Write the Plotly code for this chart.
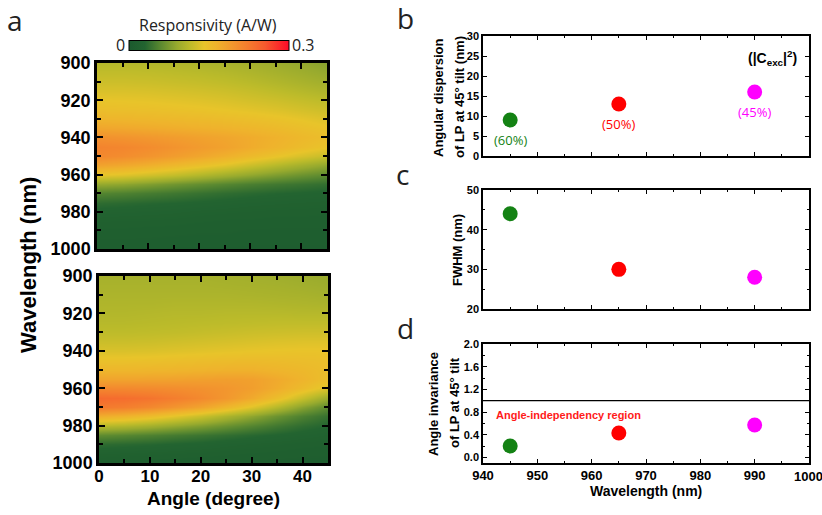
import plotly.graph_objects as go

# ---------------- data ----------------
angles = [0, 5, 10, 15, 20, 25, 30, 35, 40, 45]
wavelengths = [900, 905, 910, 915, 920, 925, 930, 935, 940, 945, 950,
               955, 960, 965, 970, 975, 980, 985, 990, 995, 1000]

# responsivity (A/W), rows = wavelengths, columns = angles (upper map)
resp_top = [
    [0.110, 0.110, 0.109, 0.107, 0.105, 0.102, 0.099, 0.094, 0.089, 0.083],
    [0.117, 0.117, 0.116, 0.114, 0.112, 0.109, 0.105, 0.100, 0.095, 0.089],
    [0.124, 0.124, 0.123, 0.121, 0.119, 0.116, 0.112, 0.107, 0.102, 0.097],
    [0.132, 0.132, 0.131, 0.129, 0.127, 0.124, 0.120, 0.115, 0.110, 0.105],
    [0.141, 0.140, 0.139, 0.137, 0.135, 0.132, 0.128, 0.124, 0.119, 0.114],
    [0.150, 0.149, 0.148, 0.146, 0.144, 0.141, 0.138, 0.134, 0.129, 0.124],
    [0.162, 0.161, 0.159, 0.157, 0.155, 0.152, 0.149, 0.145, 0.140, 0.134],
    [0.178, 0.176, 0.173, 0.170, 0.167, 0.164, 0.160, 0.155, 0.149, 0.143],
    [0.200, 0.197, 0.193, 0.188, 0.183, 0.178, 0.172, 0.165, 0.157, 0.150],
    [0.215, 0.212, 0.206, 0.198, 0.190, 0.182, 0.172, 0.162, 0.152, 0.142],
    [0.210, 0.205, 0.197, 0.188, 0.178, 0.167, 0.155, 0.143, 0.131, 0.120],
    [0.182, 0.176, 0.168, 0.158, 0.148, 0.137, 0.124, 0.111, 0.099, 0.087],
    [0.140, 0.135, 0.127, 0.118, 0.108, 0.097, 0.087, 0.077, 0.068, 0.060],
    [0.090, 0.086, 0.079, 0.071, 0.064, 0.057, 0.051, 0.046, 0.042, 0.038],
    [0.056, 0.053, 0.049, 0.045, 0.041, 0.037, 0.034, 0.031, 0.029, 0.027],
    [0.036, 0.034, 0.032, 0.030, 0.028, 0.026, 0.024, 0.023, 0.022, 0.021],
    [0.026, 0.025, 0.024, 0.023, 0.021, 0.020, 0.019, 0.018, 0.018, 0.017],
    [0.020, 0.019, 0.019, 0.018, 0.017, 0.016, 0.016, 0.015, 0.015, 0.015],
    [0.016, 0.016, 0.015, 0.015, 0.014, 0.014, 0.013, 0.013, 0.013, 0.013],
    [0.013, 0.013, 0.013, 0.012, 0.012, 0.012, 0.011, 0.011, 0.011, 0.011],
    [0.011, 0.011, 0.011, 0.010, 0.010, 0.010, 0.010, 0.010, 0.010, 0.010],
]

# responsivity (A/W), lower map
resp_bottom = [
    [0.100, 0.100, 0.100, 0.100, 0.100, 0.099, 0.098, 0.096, 0.094, 0.092],
    [0.102, 0.102, 0.102, 0.102, 0.102, 0.101, 0.100, 0.099, 0.097, 0.095],
    [0.104, 0.104, 0.104, 0.104, 0.104, 0.104, 0.103, 0.102, 0.101, 0.099],
    [0.106, 0.106, 0.106, 0.107, 0.107, 0.107, 0.107, 0.106, 0.105, 0.104],
    [0.108, 0.108, 0.109, 0.110, 0.110, 0.111, 0.111, 0.111, 0.110, 0.110],
    [0.111, 0.111, 0.112, 0.113, 0.114, 0.115, 0.116, 0.117, 0.117, 0.117],
    [0.115, 0.115, 0.116, 0.117, 0.119, 0.121, 0.123, 0.124, 0.125, 0.125],
    [0.122, 0.122, 0.123, 0.125, 0.127, 0.129, 0.131, 0.133, 0.134, 0.134],
    [0.132, 0.132, 0.133, 0.135, 0.137, 0.139, 0.141, 0.142, 0.143, 0.143],
    [0.145, 0.145, 0.146, 0.148, 0.150, 0.152, 0.153, 0.152, 0.150, 0.148],
    [0.160, 0.160, 0.161, 0.162, 0.164, 0.166, 0.166, 0.162, 0.157, 0.150],
    [0.180, 0.180, 0.181, 0.182, 0.184, 0.186, 0.184, 0.174, 0.162, 0.148],
    [0.210, 0.209, 0.207, 0.204, 0.200, 0.195, 0.186, 0.171, 0.153, 0.133],
    [0.240, 0.237, 0.231, 0.221, 0.209, 0.194, 0.174, 0.150, 0.120, 0.092],
    [0.225, 0.220, 0.210, 0.196, 0.180, 0.160, 0.136, 0.110, 0.082, 0.060],
    [0.170, 0.163, 0.152, 0.138, 0.122, 0.104, 0.086, 0.068, 0.052, 0.040],
    [0.110, 0.105, 0.097, 0.087, 0.077, 0.066, 0.055, 0.045, 0.036, 0.030],
    [0.062, 0.058, 0.053, 0.048, 0.043, 0.038, 0.033, 0.029, 0.025, 0.022],
    [0.036, 0.034, 0.032, 0.029, 0.027, 0.024, 0.022, 0.020, 0.018, 0.017],
    [0.022, 0.021, 0.020, 0.019, 0.018, 0.017, 0.016, 0.015, 0.014, 0.014],
    [0.015, 0.015, 0.014, 0.014, 0.013, 0.013, 0.012, 0.012, 0.012, 0.011],
]

peak_wavelength = [945, 965, 990]
angular_dispersion = [9, 13, 16]
fwhm = [44, 30, 28]
angle_invariance = [0.2, 0.43, 0.57]
exciton_fraction = ["(60%)", "(50%)", "(45%)"]
point_colors = ["#148214", "#ff0000", "#ff00ff"]

colorscale = [
    [0.0, "#1b5a2e"], [0.1, "#236430"], [0.2, "#5c8a30"], [0.3, "#97aa2e"],
    [0.38, "#bcbb2a"], [0.47, "#e8c42a"], [0.55, "#efb22c"], [0.65, "#f2962e"],
    [0.75, "#f47a2e"], [0.85, "#f65a2e"], [1.0, "#ff0a28"],
]

W, H = 822, 515


def px_x(p):
    return p / W


def px_y(p):
    return (H - p) / H


fig = go.Figure()

fig.add_trace(go.Heatmap(
    x=angles, y=wavelengths, z=resp_top, zmin=0, zmax=0.3, zsmooth="best",
    colorscale=colorscale, xaxis="x", yaxis="y", hoverinfo="skip",
    colorbar=dict(orientation="h", x=px_x(208.5), xanchor="center",
                  y=px_y(45.5), yanchor="middle", len=160 / W, lenmode="fraction",
                  thickness=10, thicknessmode="pixels", outlinecolor="black",
                  outlinewidth=1, showticklabels=False, ticks="", xpad=0, ypad=0),
))
fig.add_trace(go.Heatmap(
    x=angles, y=wavelengths, z=resp_bottom, zmin=0, zmax=0.3, zsmooth="best",
    colorscale=colorscale, showscale=False, xaxis="x2", yaxis="y2", hoverinfo="skip",
))

for ax_x, ax_y, vals in [("x3", "y3", angular_dispersion), ("x4", "y4", fwhm),
                         ("x5", "y5", angle_invariance)]:
    fig.add_trace(go.Scatter(
        x=peak_wavelength, y=vals, mode="markers", xaxis=ax_x, yaxis=ax_y,
        marker=dict(size=15, color=point_colors, line=dict(width=0)),
        showlegend=False, hoverinfo="skip",
    ))

bold = "Liberation Sans"
hm_common = dict(showline=True, linewidth=2.5, linecolor="black", mirror="ticks",
                 ticks="inside", ticklen=6, tickwidth=2, tickcolor="black",
                 showgrid=False, zeroline=False, automargin=False,
                 tickfont=dict(family=bold, size=18, color="black", weight="bold"))
hm_x = dict(hm_common, range=[0, 45], tick0=0, dtick=10,
            minor=dict(ticks="inside", ticklen=4, tickwidth=2, tickcolor="black", dtick=5))
hm_y = dict(hm_common, range=[1000, 900], tick0=900, dtick=20,
            minor=dict(ticks="inside", ticklen=4, tickwidth=2, tickcolor="black", dtick=10))

rp_common = dict(showline=True, linewidth=1.5, linecolor="black", mirror="ticks",
                 ticks="inside", ticklen=4, tickwidth=1.2, tickcolor="black",
                 showgrid=False, zeroline=False, automargin=False,
                 tickfont=dict(family=bold, size=11, color="black", weight="bold"))
rp_minor = dict(ticks="inside", ticklen=2.5, tickwidth=1.2, tickcolor="black")
rp_x = dict(rp_common, range=[940, 1000.001], tick0=940, dtick=10,
            minor=dict(rp_minor, dtick=5))

fig.update_layout(
    width=W, height=H, margin=dict(l=0, r=0, t=0, b=0, autoexpand=False),
    paper_bgcolor="white", plot_bgcolor="white", showlegend=False,
    xaxis=dict(hm_x, domain=[px_x(97), px_x(327)], anchor="y", showticklabels=False),
    yaxis=dict(hm_y, domain=[px_y(249), px_y(63)], anchor="x"),
    xaxis2=dict(hm_x, domain=[px_x(99), px_x(328)], anchor="y2", ticklabelstandoff=-4,
                tickfont=dict(family=bold, size=17, color="black", weight="bold")),
    yaxis2=dict(hm_y, domain=[px_y(463), px_y(276)], anchor="x2"),
    xaxis3=dict(rp_x, domain=[px_x(483), px_x(809)], anchor="y3", showticklabels=False),
    yaxis3=dict(rp_common, domain=[px_y(156), px_y(36)], anchor="x3",
                range=[0, 30], dtick=5),
    xaxis4=dict(rp_x, domain=[px_x(483), px_x(809)], anchor="y4", showticklabels=False),
    yaxis4=dict(rp_common, domain=[px_y(309), px_y(190)], anchor="x4",
                range=[20, 50], dtick=10, minor=dict(rp_minor, dtick=5)),
    xaxis5=dict(rp_x, domain=[px_x(483), px_x(809)], anchor="y5",
                tickfont=dict(family=bold, size=13, color="black", weight="bold")),
    yaxis5=dict(rp_common, domain=[px_y(463), px_y(344)], anchor="x5",
                range=[-0.1, 2.0], tick0=0, dtick=0.4, tickformat=".1f",
                minor=dict(rp_minor, dtick=0.2)),
)

fig.add_shape(type="line", xref="x5 domain", x0=0, x1=1, yref="y5", y0=1.0, y1=1.0,
              line=dict(color="black", width=1.2))

ann = []


def paper_text(text, x, y, size, family=bold, weight="bold", angle=0, color="black",
               xanchor="center"):
    ann.append(dict(text=text, x=px_x(x), y=px_y(y), xref="paper", yref="paper",
                    showarrow=False, textangle=angle, xanchor=xanchor, yanchor="middle",
                    font=dict(family=family, size=size, color=color, weight=weight)))


light = "Open Sans"
paper_text("a", 15, 20, 28, family=light, weight="normal", color="#222")
paper_text("b", 405, 18, 28, family=light, weight="normal", color="#222")
paper_text("c", 402, 174, 28, family=light, weight="normal", color="#222")
paper_text("d", 405, 328, 28, family=light, weight="normal", color="#222")

paper_text("Responsivity (A/W)", 208, 25, 16, family=light, weight="normal", color="#222")
paper_text("0", 121, 45, 16, family=light, weight="normal", color="#222")
paper_text("0.3", 303, 45, 16, family=light, weight="normal", color="#222")

paper_text("Wavelength (nm)", 28, 265, 22, angle=-90)
paper_text("Angle (degree)", 213, 498, 19)

paper_text("Angular dispersion", 439, 97, 13, angle=-90)
paper_text("of LP at 45° tilt (nm)", 460, 97, 13, angle=-90)
paper_text("FWHM (nm)", 457, 250, 13, angle=-90)
paper_text("Angle invariance", 433, 404, 13, angle=-90)
paper_text("of LP at 45° tilt", 454, 403, 13, angle=-90)
paper_text("Wavelength (nm)", 646, 491, 14)

for wl, val, lab, col in zip(peak_wavelength, angular_dispersion, exciton_fraction, point_colors):
    ann.append(dict(text=lab, x=wl, y=val, xref="x3", yref="y3", showarrow=False,
                    yshift=-20, font=dict(family=light, size=13, color=col)))

ann.append(dict(text="(|C<sub>exc</sub>|<sup>2</sup>)", x=1, y=1, xref="x3 domain",
                yref="y3 domain", xanchor="right", yanchor="top", xshift=-10, yshift=-10,
                showarrow=False, font=dict(family=bold, size=14, color="black", weight="bold")))
ann.append(dict(text="Angle-independency region", x=942, y=0.75, xref="x5", yref="y5",
                xanchor="left", yanchor="middle", showarrow=False,
                font=dict(family=bold, size=11, color="#ff1a1a", weight="bold")))
# last tick label of panel d (runs past the right page edge, as in the original)
ann.append(dict(text="1000", x=1000, y=0, xref="x5", yref="y5 domain", xanchor="center",
                yanchor="top", yshift=-4, showarrow=False,
                font=dict(family=bold, size=13, color="black", weight="bold")))

fig.update_layout(annotations=ann)
fig.write_html("out.html", config={"displayModeBar": False},
               post_script="document.body.style.margin='0px';document.body.style.padding='0px';")
